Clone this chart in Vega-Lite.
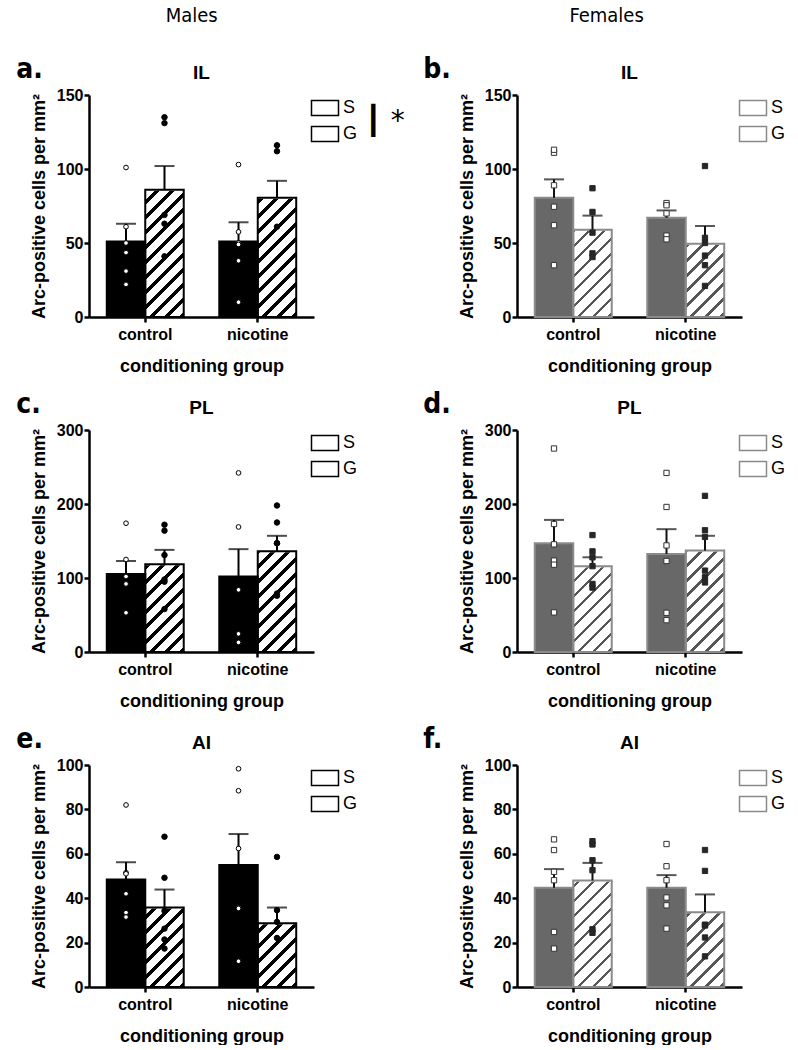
{
 "$schema": "https://vega.github.io/schema/vega-lite/v6.json",
 "background": "white",
 "padding": {"left": 16, "top": 6, "right": 0, "bottom": 0},
 "datasets": {
  "bars": [
   {"panel":"a","group":"control","cond":"S","mean":51,"upper":63},
   {"panel":"a","group":"control","cond":"G","mean":86,"upper":102},
   {"panel":"a","group":"nicotine","cond":"S","mean":51,"upper":64},
   {"panel":"a","group":"nicotine","cond":"G","mean":80.5,"upper":92},
   {"panel":"b","group":"control","cond":"S","mean":80.5,"upper":93},
   {"panel":"b","group":"control","cond":"G","mean":59,"upper":68.5},
   {"panel":"b","group":"nicotine","cond":"S","mean":67,"upper":72},
   {"panel":"b","group":"nicotine","cond":"G","mean":49.5,"upper":61.5},
   {"panel":"c","group":"control","cond":"S","mean":105.5,"upper":123},
   {"panel":"c","group":"control","cond":"G","mean":118.5,"upper":138},
   {"panel":"c","group":"nicotine","cond":"S","mean":102,"upper":139},
   {"panel":"c","group":"nicotine","cond":"G","mean":136,"upper":157},
   {"panel":"d","group":"control","cond":"S","mean":147,"upper":178.5},
   {"panel":"d","group":"control","cond":"G","mean":116,"upper":128},
   {"panel":"d","group":"nicotine","cond":"S","mean":132.5,"upper":166},
   {"panel":"d","group":"nicotine","cond":"G","mean":137,"upper":157},
   {"panel":"e","group":"control","cond":"S","mean":48.4,"upper":56.2},
   {"panel":"e","group":"control","cond":"G","mean":35.8,"upper":43.9},
   {"panel":"e","group":"nicotine","cond":"S","mean":55,"upper":68.9},
   {"panel":"e","group":"nicotine","cond":"G","mean":28.7,"upper":35.8},
   {"panel":"f","group":"control","cond":"S","mean":44.7,"upper":53.1},
   {"panel":"f","group":"control","cond":"G","mean":48,"upper":55.9},
   {"panel":"f","group":"nicotine","cond":"S","mean":44.7,"upper":50.4},
   {"panel":"f","group":"nicotine","cond":"G","mean":33.7,"upper":41.7}
  ],
  "pts": [
   {"panel":"a","group":"control","cond":"S","value":101},
   {"panel":"a","group":"control","cond":"S","value":61},
   {"panel":"a","group":"control","cond":"S","value":50},
   {"panel":"a","group":"control","cond":"S","value":43.5},
   {"panel":"a","group":"control","cond":"S","value":31},
   {"panel":"a","group":"control","cond":"S","value":22},
   {"panel":"a","group":"control","cond":"G","value":131},
   {"panel":"a","group":"control","cond":"G","value":135},
   {"panel":"a","group":"control","cond":"G","value":69},
   {"panel":"a","group":"control","cond":"G","value":63},
   {"panel":"a","group":"control","cond":"G","value":41},
   {"panel":"a","group":"nicotine","cond":"S","value":103},
   {"panel":"a","group":"nicotine","cond":"S","value":57.5},
   {"panel":"a","group":"nicotine","cond":"S","value":50},
   {"panel":"a","group":"nicotine","cond":"S","value":49},
   {"panel":"a","group":"nicotine","cond":"S","value":38},
   {"panel":"a","group":"nicotine","cond":"S","value":10},
   {"panel":"a","group":"nicotine","cond":"G","value":112},
   {"panel":"a","group":"nicotine","cond":"G","value":116},
   {"panel":"a","group":"nicotine","cond":"G","value":61},
   {"panel":"b","group":"control","cond":"S","value":111},
   {"panel":"b","group":"control","cond":"S","value":113},
   {"panel":"b","group":"control","cond":"S","value":89},
   {"panel":"b","group":"control","cond":"S","value":74.5},
   {"panel":"b","group":"control","cond":"S","value":62},
   {"panel":"b","group":"control","cond":"S","value":35},
   {"panel":"b","group":"control","cond":"G","value":87},
   {"panel":"b","group":"control","cond":"G","value":71},
   {"panel":"b","group":"control","cond":"G","value":57},
   {"panel":"b","group":"control","cond":"G","value":43},
   {"panel":"b","group":"control","cond":"G","value":40.5},
   {"panel":"b","group":"nicotine","cond":"S","value":77},
   {"panel":"b","group":"nicotine","cond":"S","value":75.5},
   {"panel":"b","group":"nicotine","cond":"S","value":70},
   {"panel":"b","group":"nicotine","cond":"S","value":55},
   {"panel":"b","group":"nicotine","cond":"S","value":52.5},
   {"panel":"b","group":"nicotine","cond":"G","value":102},
   {"panel":"b","group":"nicotine","cond":"G","value":53.5},
   {"panel":"b","group":"nicotine","cond":"G","value":50},
   {"panel":"b","group":"nicotine","cond":"G","value":41.5},
   {"panel":"b","group":"nicotine","cond":"G","value":35},
   {"panel":"b","group":"nicotine","cond":"G","value":21},
   {"panel":"c","group":"control","cond":"S","value":174},
   {"panel":"c","group":"control","cond":"S","value":125},
   {"panel":"c","group":"control","cond":"S","value":102},
   {"panel":"c","group":"control","cond":"S","value":92},
   {"panel":"c","group":"control","cond":"S","value":92},
   {"panel":"c","group":"control","cond":"S","value":53},
   {"panel":"c","group":"control","cond":"G","value":164},
   {"panel":"c","group":"control","cond":"G","value":172},
   {"panel":"c","group":"control","cond":"G","value":131},
   {"panel":"c","group":"control","cond":"G","value":98},
   {"panel":"c","group":"control","cond":"G","value":95},
   {"panel":"c","group":"control","cond":"G","value":58},
   {"panel":"c","group":"nicotine","cond":"S","value":242},
   {"panel":"c","group":"nicotine","cond":"S","value":169},
   {"panel":"c","group":"nicotine","cond":"S","value":84},
   {"panel":"c","group":"nicotine","cond":"S","value":84},
   {"panel":"c","group":"nicotine","cond":"S","value":24.5},
   {"panel":"c","group":"nicotine","cond":"S","value":13},
   {"panel":"c","group":"nicotine","cond":"G","value":198},
   {"panel":"c","group":"nicotine","cond":"G","value":175},
   {"panel":"c","group":"nicotine","cond":"G","value":147},
   {"panel":"c","group":"nicotine","cond":"G","value":147},
   {"panel":"c","group":"nicotine","cond":"G","value":79},
   {"panel":"c","group":"nicotine","cond":"G","value":76},
   {"panel":"d","group":"control","cond":"S","value":275},
   {"panel":"d","group":"control","cond":"S","value":173},
   {"panel":"d","group":"control","cond":"S","value":145.5},
   {"panel":"d","group":"control","cond":"S","value":123.5},
   {"panel":"d","group":"control","cond":"S","value":118},
   {"panel":"d","group":"control","cond":"S","value":53.5},
   {"panel":"d","group":"control","cond":"G","value":158},
   {"panel":"d","group":"control","cond":"G","value":136},
   {"panel":"d","group":"control","cond":"G","value":128},
   {"panel":"d","group":"control","cond":"G","value":116},
   {"panel":"d","group":"control","cond":"G","value":92},
   {"panel":"d","group":"control","cond":"G","value":87},
   {"panel":"d","group":"nicotine","cond":"S","value":242},
   {"panel":"d","group":"nicotine","cond":"S","value":196},
   {"panel":"d","group":"nicotine","cond":"S","value":144},
   {"panel":"d","group":"nicotine","cond":"S","value":123},
   {"panel":"d","group":"nicotine","cond":"S","value":53},
   {"panel":"d","group":"nicotine","cond":"S","value":43},
   {"panel":"d","group":"nicotine","cond":"G","value":211},
   {"panel":"d","group":"nicotine","cond":"G","value":164.5},
   {"panel":"d","group":"nicotine","cond":"G","value":155.5},
   {"panel":"d","group":"nicotine","cond":"G","value":110},
   {"panel":"d","group":"nicotine","cond":"G","value":101},
   {"panel":"d","group":"nicotine","cond":"G","value":94},
   {"panel":"e","group":"control","cond":"S","value":82},
   {"panel":"e","group":"control","cond":"S","value":51.5},
   {"panel":"e","group":"control","cond":"S","value":51},
   {"panel":"e","group":"control","cond":"S","value":42},
   {"panel":"e","group":"control","cond":"S","value":33.5},
   {"panel":"e","group":"control","cond":"S","value":31.5},
   {"panel":"e","group":"control","cond":"G","value":67.7},
   {"panel":"e","group":"control","cond":"G","value":49.2},
   {"panel":"e","group":"control","cond":"G","value":34.3},
   {"panel":"e","group":"control","cond":"G","value":26.3},
   {"panel":"e","group":"control","cond":"G","value":21.4},
   {"panel":"e","group":"control","cond":"G","value":17.3},
   {"panel":"e","group":"nicotine","cond":"S","value":98.3},
   {"panel":"e","group":"nicotine","cond":"S","value":88.4},
   {"panel":"e","group":"nicotine","cond":"S","value":62.4},
   {"panel":"e","group":"nicotine","cond":"S","value":35.6},
   {"panel":"e","group":"nicotine","cond":"S","value":35.4},
   {"panel":"e","group":"nicotine","cond":"S","value":11.6},
   {"panel":"e","group":"nicotine","cond":"G","value":58.6},
   {"panel":"e","group":"nicotine","cond":"G","value":34.6},
   {"panel":"e","group":"nicotine","cond":"G","value":29.3},
   {"panel":"e","group":"nicotine","cond":"G","value":22.1},
   {"panel":"f","group":"control","cond":"S","value":66.5},
   {"panel":"f","group":"control","cond":"S","value":61.7},
   {"panel":"f","group":"control","cond":"S","value":51.9},
   {"panel":"f","group":"control","cond":"S","value":48.1},
   {"panel":"f","group":"control","cond":"S","value":24.8},
   {"panel":"f","group":"control","cond":"S","value":17.3},
   {"panel":"f","group":"control","cond":"G","value":64.2},
   {"panel":"f","group":"control","cond":"G","value":65.7},
   {"panel":"f","group":"control","cond":"G","value":57.1},
   {"panel":"f","group":"control","cond":"G","value":52.6},
   {"panel":"f","group":"control","cond":"G","value":26},
   {"panel":"f","group":"control","cond":"G","value":24.4},
   {"panel":"f","group":"nicotine","cond":"S","value":64.4},
   {"panel":"f","group":"nicotine","cond":"S","value":54.4},
   {"panel":"f","group":"nicotine","cond":"S","value":48.1},
   {"panel":"f","group":"nicotine","cond":"S","value":40.3},
   {"panel":"f","group":"nicotine","cond":"S","value":36.8},
   {"panel":"f","group":"nicotine","cond":"S","value":26.3},
   {"panel":"f","group":"nicotine","cond":"G","value":61.7},
   {"panel":"f","group":"nicotine","cond":"G","value":52.3},
   {"panel":"f","group":"nicotine","cond":"G","value":28.1},
   {"panel":"f","group":"nicotine","cond":"G","value":27.7},
   {"panel":"f","group":"nicotine","cond":"G","value":22.3},
   {"panel":"f","group":"nicotine","cond":"G","value":13.8}
  ]
 },
 "spacing": 14,
 "resolve": {"scale": {"stroke": "independent"}, "legend": {"stroke": "independent"}},
 "hconcat": [
  {
   "title": {"text": "Males", "anchor": "middle", "frame": "bounds", "font": "'DejaVu Sans Condensed', 'Liberation Sans', sans-serif", "fontSize": 20, "fontWeight": "normal", "offset": 30, "dx": -21},
   "spacing": 16,
   "resolve": {"scale": {"stroke": "independent"}, "legend": {"stroke": "independent"}},
   "vconcat": [
    {
     "title": {"text": "a.", "anchor": "start", "frame": "bounds", "font": "'DejaVu Sans Condensed', 'Liberation Sans', sans-serif", "fontSize": 28, "fontWeight": "bold", "offset": -20, "dx": -14},
     "resolve": {"scale": {"stroke": "independent"}, "legend": {"stroke": "independent"}},
     "vconcat": [{
      "width": 225, "height": 222,
      "title": {"text": "IL", "anchor": "middle", "frame": "group", "fontSize": 19, "fontWeight": "bold", "offset": 4},
      "data": {"name": "bars"},
      "transform": [{"filter": "datum.panel === 'a'"}],
      "encoding": {
       "x": {"field": "group", "type": "nominal", "title": "conditioning group", "scale": {"domain": ["control", "nicotine"], "paddingInner": 0.316, "paddingOuter": 0.158}, "axis": {"bandPosition": 0.5}},
       "xOffset": {"field": "cond", "type": "nominal", "scale": {"domain": ["S", "G"], "paddingInner": 0, "paddingOuter": 0}},
       "y": {"field": "mean", "type": "quantitative", "stack": null, "title": "Arc-positive cells per mm²", "scale": {"domain": [0, 150], "nice": false}, "axis": {"values": [0, 50, 100, 150]}}
      },
      "layer": [
       {"transform": [{"filter": "datum.cond === 'G'"}], "mark": {"type": "bar", "stroke": null, "fill": {"gradient": "linear", "x1": 0, "y1": 0, "x2": 0.1976, "y2": 1.139, "stops": [
    {"offset": 0, "color": "#000"}, {"offset": 0.019, "color": "#000"}, {"offset": 0.019, "color": "#fff"},
    {"offset": 0.0576, "color": "#fff"}, {"offset": 0.0576, "color": "#000"}, {"offset": 0.0766, "color": "#000"}, {"offset": 0.0766, "color": "#fff"},
    {"offset": 0.1152, "color": "#fff"}, {"offset": 0.1152, "color": "#000"}, {"offset": 0.1342, "color": "#000"}, {"offset": 0.1342, "color": "#fff"},
    {"offset": 0.1727, "color": "#fff"}, {"offset": 0.1727, "color": "#000"}, {"offset": 0.1917, "color": "#000"}, {"offset": 0.1917, "color": "#fff"},
    {"offset": 0.2303, "color": "#fff"}, {"offset": 0.2303, "color": "#000"}, {"offset": 0.2493, "color": "#000"}, {"offset": 0.2493, "color": "#fff"},
    {"offset": 0.2879, "color": "#fff"}, {"offset": 0.2879, "color": "#000"}, {"offset": 0.3069, "color": "#000"}, {"offset": 0.3069, "color": "#fff"},
    {"offset": 0.3455, "color": "#fff"}, {"offset": 0.3455, "color": "#000"}, {"offset": 0.3645, "color": "#000"}, {"offset": 0.3645, "color": "#fff"},
    {"offset": 0.4031, "color": "#fff"}, {"offset": 0.4031, "color": "#000"}, {"offset": 0.4221, "color": "#000"}, {"offset": 0.4221, "color": "#fff"},
    {"offset": 0.4607, "color": "#fff"}, {"offset": 0.4607, "color": "#000"}, {"offset": 0.4797, "color": "#000"}, {"offset": 0.4797, "color": "#fff"},
    {"offset": 0.5182, "color": "#fff"}, {"offset": 0.5182, "color": "#000"}, {"offset": 0.5372, "color": "#000"}, {"offset": 0.5372, "color": "#fff"},
    {"offset": 0.5758, "color": "#fff"}, {"offset": 0.5758, "color": "#000"}, {"offset": 0.5948, "color": "#000"}, {"offset": 0.5948, "color": "#fff"},
    {"offset": 0.6334, "color": "#fff"}, {"offset": 0.6334, "color": "#000"}, {"offset": 0.6524, "color": "#000"}, {"offset": 0.6524, "color": "#fff"},
    {"offset": 0.691, "color": "#fff"}, {"offset": 0.691, "color": "#000"}, {"offset": 0.71, "color": "#000"}, {"offset": 0.71, "color": "#fff"},
    {"offset": 0.7486, "color": "#fff"}, {"offset": 0.7486, "color": "#000"}, {"offset": 0.7676, "color": "#000"}, {"offset": 0.7676, "color": "#fff"},
    {"offset": 0.8061, "color": "#fff"}, {"offset": 0.8061, "color": "#000"}, {"offset": 0.8251, "color": "#000"}, {"offset": 0.8251, "color": "#fff"},
    {"offset": 0.8637, "color": "#fff"}, {"offset": 0.8637, "color": "#000"}, {"offset": 0.8827, "color": "#000"}, {"offset": 0.8827, "color": "#fff"},
    {"offset": 0.9213, "color": "#fff"}, {"offset": 0.9213, "color": "#000"}, {"offset": 0.9403, "color": "#000"}, {"offset": 0.9403, "color": "#fff"},
    {"offset": 0.9789, "color": "#fff"}, {"offset": 0.9789, "color": "#000"}, {"offset": 0.9979, "color": "#000"}, {"offset": 0.9979, "color": "#fff"},
    {"offset": 1, "color": "#fff"}]}}, "encoding": {"y": {"datum": 150, "type": "quantitative", "title": "Arc-positive cells per mm²"}, "y2": {"datum": 0}}},
       {"transform": [{"filter": "datum.cond === 'G'"}], "mark": {"type": "bar", "fill": "#ffffff", "stroke": "#ffffff", "strokeWidth": 2}, "encoding": {"y2": {"datum": 150}}},
       {"mark": {"type": "bar", "strokeWidth": 2}, "encoding": {
         "fill": {"condition": {"test": "datum.cond === 'S'", "value": "#000000"}, "value": "transparent"},
         "stroke": {"field": "cond", "type": "nominal", "scale": {"domain": ["S", "G"], "range": ["#000000", "#000000"]}, "legend": {"title": "┃ *", "titleOrient": "right", "encode": {"symbols": {"strokeWidth": {"value": 1.5}, "fill": {"condition": [{"test": "datum.value === 'G'", "value": {"gradient": "linear", "x1": 0, "y1": 0, "x2": 1.189, "y2": 0.66, "stops": [{"offset": 0, "color": "#000"}, {"offset": 0.118, "color": "#000"}, {"offset": 0.118, "color": "#fff"}, {"offset": 0.357, "color": "#fff"}, {"offset": 0.357, "color": "#000"}, {"offset": 0.475, "color": "#000"}, {"offset": 0.475, "color": "#fff"}, {"offset": 0.714, "color": "#fff"}, {"offset": 0.714, "color": "#000"}, {"offset": 0.832, "color": "#000"}, {"offset": 0.832, "color": "#fff"}, {"offset": 1, "color": "#fff"}]}}, {"test": "datum.value === 'S'", "value": "#000000"}], "value": "#000000"}}}}}
       }},
       {"mark": {"type": "rule", "stroke": "#000000", "strokeWidth": 2}, "encoding": {"y2": {"field": "upper"}}},
       {"mark": {"type": "tick", "color": "#000000", "thickness": 2, "size": 20}, "encoding": {"y": {"field": "upper", "type": "quantitative", "title": "Arc-positive cells per mm²"}}},
       {"data": {"name": "pts"}, "transform": [{"filter": "datum.panel === 'a'"}], "mark": {"type": "point", "shape": "circle", "filled": true, "opacity": 1, "stroke": "#000000", "strokeWidth": 1}, "encoding": {"y": {"field": "value", "type": "quantitative", "title": "Arc-positive cells per mm²"}, "fill": {"condition": {"test": "datum.cond === 'S'", "value": "#ffffff"}, "value": "#000000"}, "size": {"condition": {"test": "datum.cond === 'S'", "value": 22}, "value": 30}}}
      ]
     }]
    },
    {
     "title": {"text": "c.", "anchor": "start", "frame": "bounds", "font": "'DejaVu Sans Condensed', 'Liberation Sans', sans-serif", "fontSize": 28, "fontWeight": "bold", "offset": -20, "dx": -14},
     "resolve": {"scale": {"stroke": "independent"}, "legend": {"stroke": "independent"}},
     "vconcat": [{
      "width": 225, "height": 222,
      "title": {"text": "PL", "anchor": "middle", "frame": "group", "fontSize": 19, "fontWeight": "bold", "offset": 4},
      "data": {"name": "bars"},
      "transform": [{"filter": "datum.panel === 'c'"}],
      "encoding": {
       "x": {"field": "group", "type": "nominal", "title": "conditioning group", "scale": {"domain": ["control", "nicotine"], "paddingInner": 0.316, "paddingOuter": 0.158}, "axis": {"bandPosition": 0.5}},
       "xOffset": {"field": "cond", "type": "nominal", "scale": {"domain": ["S", "G"], "paddingInner": 0, "paddingOuter": 0}},
       "y": {"field": "mean", "type": "quantitative", "stack": null, "title": "Arc-positive cells per mm²", "scale": {"domain": [0, 300], "nice": false}, "axis": {"values": [0, 100, 200, 300]}}
      },
      "layer": [
       {"transform": [{"filter": "datum.cond === 'G'"}], "mark": {"type": "bar", "stroke": null, "fill": {"gradient": "linear", "x1": 0, "y1": 0, "x2": 0.1976, "y2": 1.139, "stops": [
    {"offset": 0, "color": "#000"}, {"offset": 0.019, "color": "#000"}, {"offset": 0.019, "color": "#fff"},
    {"offset": 0.0576, "color": "#fff"}, {"offset": 0.0576, "color": "#000"}, {"offset": 0.0766, "color": "#000"}, {"offset": 0.0766, "color": "#fff"},
    {"offset": 0.1152, "color": "#fff"}, {"offset": 0.1152, "color": "#000"}, {"offset": 0.1342, "color": "#000"}, {"offset": 0.1342, "color": "#fff"},
    {"offset": 0.1727, "color": "#fff"}, {"offset": 0.1727, "color": "#000"}, {"offset": 0.1917, "color": "#000"}, {"offset": 0.1917, "color": "#fff"},
    {"offset": 0.2303, "color": "#fff"}, {"offset": 0.2303, "color": "#000"}, {"offset": 0.2493, "color": "#000"}, {"offset": 0.2493, "color": "#fff"},
    {"offset": 0.2879, "color": "#fff"}, {"offset": 0.2879, "color": "#000"}, {"offset": 0.3069, "color": "#000"}, {"offset": 0.3069, "color": "#fff"},
    {"offset": 0.3455, "color": "#fff"}, {"offset": 0.3455, "color": "#000"}, {"offset": 0.3645, "color": "#000"}, {"offset": 0.3645, "color": "#fff"},
    {"offset": 0.4031, "color": "#fff"}, {"offset": 0.4031, "color": "#000"}, {"offset": 0.4221, "color": "#000"}, {"offset": 0.4221, "color": "#fff"},
    {"offset": 0.4607, "color": "#fff"}, {"offset": 0.4607, "color": "#000"}, {"offset": 0.4797, "color": "#000"}, {"offset": 0.4797, "color": "#fff"},
    {"offset": 0.5182, "color": "#fff"}, {"offset": 0.5182, "color": "#000"}, {"offset": 0.5372, "color": "#000"}, {"offset": 0.5372, "color": "#fff"},
    {"offset": 0.5758, "color": "#fff"}, {"offset": 0.5758, "color": "#000"}, {"offset": 0.5948, "color": "#000"}, {"offset": 0.5948, "color": "#fff"},
    {"offset": 0.6334, "color": "#fff"}, {"offset": 0.6334, "color": "#000"}, {"offset": 0.6524, "color": "#000"}, {"offset": 0.6524, "color": "#fff"},
    {"offset": 0.691, "color": "#fff"}, {"offset": 0.691, "color": "#000"}, {"offset": 0.71, "color": "#000"}, {"offset": 0.71, "color": "#fff"},
    {"offset": 0.7486, "color": "#fff"}, {"offset": 0.7486, "color": "#000"}, {"offset": 0.7676, "color": "#000"}, {"offset": 0.7676, "color": "#fff"},
    {"offset": 0.8061, "color": "#fff"}, {"offset": 0.8061, "color": "#000"}, {"offset": 0.8251, "color": "#000"}, {"offset": 0.8251, "color": "#fff"},
    {"offset": 0.8637, "color": "#fff"}, {"offset": 0.8637, "color": "#000"}, {"offset": 0.8827, "color": "#000"}, {"offset": 0.8827, "color": "#fff"},
    {"offset": 0.9213, "color": "#fff"}, {"offset": 0.9213, "color": "#000"}, {"offset": 0.9403, "color": "#000"}, {"offset": 0.9403, "color": "#fff"},
    {"offset": 0.9789, "color": "#fff"}, {"offset": 0.9789, "color": "#000"}, {"offset": 0.9979, "color": "#000"}, {"offset": 0.9979, "color": "#fff"},
    {"offset": 1, "color": "#fff"}]}}, "encoding": {"y": {"datum": 300, "type": "quantitative", "title": "Arc-positive cells per mm²"}, "y2": {"datum": 0}}},
       {"transform": [{"filter": "datum.cond === 'G'"}], "mark": {"type": "bar", "fill": "#ffffff", "stroke": "#ffffff", "strokeWidth": 2}, "encoding": {"y2": {"datum": 300}}},
       {"mark": {"type": "bar", "strokeWidth": 2}, "encoding": {
         "fill": {"condition": {"test": "datum.cond === 'S'", "value": "#000000"}, "value": "transparent"},
         "stroke": {"field": "cond", "type": "nominal", "scale": {"domain": ["S", "G"], "range": ["#000000", "#000000"]}, "legend": {"title": null, "encode": {"symbols": {"strokeWidth": {"value": 1.5}, "fill": {"condition": [{"test": "datum.value === 'G'", "value": {"gradient": "linear", "x1": 0, "y1": 0, "x2": 1.189, "y2": 0.66, "stops": [{"offset": 0, "color": "#000"}, {"offset": 0.118, "color": "#000"}, {"offset": 0.118, "color": "#fff"}, {"offset": 0.357, "color": "#fff"}, {"offset": 0.357, "color": "#000"}, {"offset": 0.475, "color": "#000"}, {"offset": 0.475, "color": "#fff"}, {"offset": 0.714, "color": "#fff"}, {"offset": 0.714, "color": "#000"}, {"offset": 0.832, "color": "#000"}, {"offset": 0.832, "color": "#fff"}, {"offset": 1, "color": "#fff"}]}}, {"test": "datum.value === 'S'", "value": "#000000"}], "value": "#000000"}}}}}
       }},
       {"mark": {"type": "rule", "stroke": "#000000", "strokeWidth": 2}, "encoding": {"y2": {"field": "upper"}}},
       {"mark": {"type": "tick", "color": "#000000", "thickness": 2, "size": 20}, "encoding": {"y": {"field": "upper", "type": "quantitative", "title": "Arc-positive cells per mm²"}}},
       {"data": {"name": "pts"}, "transform": [{"filter": "datum.panel === 'c'"}], "mark": {"type": "point", "shape": "circle", "filled": true, "opacity": 1, "stroke": "#000000", "strokeWidth": 1}, "encoding": {"y": {"field": "value", "type": "quantitative", "title": "Arc-positive cells per mm²"}, "fill": {"condition": {"test": "datum.cond === 'S'", "value": "#ffffff"}, "value": "#000000"}, "size": {"condition": {"test": "datum.cond === 'S'", "value": 22}, "value": 30}}}
      ]
     }]
    },
    {
     "title": {"text": "e.", "anchor": "start", "frame": "bounds", "font": "'DejaVu Sans Condensed', 'Liberation Sans', sans-serif", "fontSize": 28, "fontWeight": "bold", "offset": -20, "dx": -14},
     "resolve": {"scale": {"stroke": "independent"}, "legend": {"stroke": "independent"}},
     "vconcat": [{
      "width": 225, "height": 222,
      "title": {"text": "AI", "anchor": "middle", "frame": "group", "fontSize": 19, "fontWeight": "bold", "offset": 4},
      "data": {"name": "bars"},
      "transform": [{"filter": "datum.panel === 'e'"}],
      "encoding": {
       "x": {"field": "group", "type": "nominal", "title": "conditioning group", "scale": {"domain": ["control", "nicotine"], "paddingInner": 0.316, "paddingOuter": 0.158}, "axis": {"bandPosition": 0.5}},
       "xOffset": {"field": "cond", "type": "nominal", "scale": {"domain": ["S", "G"], "paddingInner": 0, "paddingOuter": 0}},
       "y": {"field": "mean", "type": "quantitative", "stack": null, "title": "Arc-positive cells per mm²", "scale": {"domain": [0, 100], "nice": false}, "axis": {"values": [0, 20, 40, 60, 80, 100]}}
      },
      "layer": [
       {"transform": [{"filter": "datum.cond === 'G'"}], "mark": {"type": "bar", "stroke": null, "fill": {"gradient": "linear", "x1": 0, "y1": 0, "x2": 0.1976, "y2": 1.139, "stops": [
    {"offset": 0, "color": "#000"}, {"offset": 0.019, "color": "#000"}, {"offset": 0.019, "color": "#fff"},
    {"offset": 0.0576, "color": "#fff"}, {"offset": 0.0576, "color": "#000"}, {"offset": 0.0766, "color": "#000"}, {"offset": 0.0766, "color": "#fff"},
    {"offset": 0.1152, "color": "#fff"}, {"offset": 0.1152, "color": "#000"}, {"offset": 0.1342, "color": "#000"}, {"offset": 0.1342, "color": "#fff"},
    {"offset": 0.1727, "color": "#fff"}, {"offset": 0.1727, "color": "#000"}, {"offset": 0.1917, "color": "#000"}, {"offset": 0.1917, "color": "#fff"},
    {"offset": 0.2303, "color": "#fff"}, {"offset": 0.2303, "color": "#000"}, {"offset": 0.2493, "color": "#000"}, {"offset": 0.2493, "color": "#fff"},
    {"offset": 0.2879, "color": "#fff"}, {"offset": 0.2879, "color": "#000"}, {"offset": 0.3069, "color": "#000"}, {"offset": 0.3069, "color": "#fff"},
    {"offset": 0.3455, "color": "#fff"}, {"offset": 0.3455, "color": "#000"}, {"offset": 0.3645, "color": "#000"}, {"offset": 0.3645, "color": "#fff"},
    {"offset": 0.4031, "color": "#fff"}, {"offset": 0.4031, "color": "#000"}, {"offset": 0.4221, "color": "#000"}, {"offset": 0.4221, "color": "#fff"},
    {"offset": 0.4607, "color": "#fff"}, {"offset": 0.4607, "color": "#000"}, {"offset": 0.4797, "color": "#000"}, {"offset": 0.4797, "color": "#fff"},
    {"offset": 0.5182, "color": "#fff"}, {"offset": 0.5182, "color": "#000"}, {"offset": 0.5372, "color": "#000"}, {"offset": 0.5372, "color": "#fff"},
    {"offset": 0.5758, "color": "#fff"}, {"offset": 0.5758, "color": "#000"}, {"offset": 0.5948, "color": "#000"}, {"offset": 0.5948, "color": "#fff"},
    {"offset": 0.6334, "color": "#fff"}, {"offset": 0.6334, "color": "#000"}, {"offset": 0.6524, "color": "#000"}, {"offset": 0.6524, "color": "#fff"},
    {"offset": 0.691, "color": "#fff"}, {"offset": 0.691, "color": "#000"}, {"offset": 0.71, "color": "#000"}, {"offset": 0.71, "color": "#fff"},
    {"offset": 0.7486, "color": "#fff"}, {"offset": 0.7486, "color": "#000"}, {"offset": 0.7676, "color": "#000"}, {"offset": 0.7676, "color": "#fff"},
    {"offset": 0.8061, "color": "#fff"}, {"offset": 0.8061, "color": "#000"}, {"offset": 0.8251, "color": "#000"}, {"offset": 0.8251, "color": "#fff"},
    {"offset": 0.8637, "color": "#fff"}, {"offset": 0.8637, "color": "#000"}, {"offset": 0.8827, "color": "#000"}, {"offset": 0.8827, "color": "#fff"},
    {"offset": 0.9213, "color": "#fff"}, {"offset": 0.9213, "color": "#000"}, {"offset": 0.9403, "color": "#000"}, {"offset": 0.9403, "color": "#fff"},
    {"offset": 0.9789, "color": "#fff"}, {"offset": 0.9789, "color": "#000"}, {"offset": 0.9979, "color": "#000"}, {"offset": 0.9979, "color": "#fff"},
    {"offset": 1, "color": "#fff"}]}}, "encoding": {"y": {"datum": 100, "type": "quantitative", "title": "Arc-positive cells per mm²"}, "y2": {"datum": 0}}},
       {"transform": [{"filter": "datum.cond === 'G'"}], "mark": {"type": "bar", "fill": "#ffffff", "stroke": "#ffffff", "strokeWidth": 2}, "encoding": {"y2": {"datum": 100}}},
       {"mark": {"type": "bar", "strokeWidth": 2}, "encoding": {
         "fill": {"condition": {"test": "datum.cond === 'S'", "value": "#000000"}, "value": "transparent"},
         "stroke": {"field": "cond", "type": "nominal", "scale": {"domain": ["S", "G"], "range": ["#000000", "#000000"]}, "legend": {"title": null, "encode": {"symbols": {"strokeWidth": {"value": 1.5}, "fill": {"condition": [{"test": "datum.value === 'G'", "value": {"gradient": "linear", "x1": 0, "y1": 0, "x2": 1.189, "y2": 0.66, "stops": [{"offset": 0, "color": "#000"}, {"offset": 0.118, "color": "#000"}, {"offset": 0.118, "color": "#fff"}, {"offset": 0.357, "color": "#fff"}, {"offset": 0.357, "color": "#000"}, {"offset": 0.475, "color": "#000"}, {"offset": 0.475, "color": "#fff"}, {"offset": 0.714, "color": "#fff"}, {"offset": 0.714, "color": "#000"}, {"offset": 0.832, "color": "#000"}, {"offset": 0.832, "color": "#fff"}, {"offset": 1, "color": "#fff"}]}}, {"test": "datum.value === 'S'", "value": "#000000"}], "value": "#000000"}}}}}
       }},
       {"mark": {"type": "rule", "stroke": "#000000", "strokeWidth": 2}, "encoding": {"y2": {"field": "upper"}}},
       {"mark": {"type": "tick", "color": "#000000", "thickness": 2, "size": 20}, "encoding": {"y": {"field": "upper", "type": "quantitative", "title": "Arc-positive cells per mm²"}}},
       {"data": {"name": "pts"}, "transform": [{"filter": "datum.panel === 'e'"}], "mark": {"type": "point", "shape": "circle", "filled": true, "opacity": 1, "stroke": "#000000", "strokeWidth": 1}, "encoding": {"y": {"field": "value", "type": "quantitative", "title": "Arc-positive cells per mm²"}, "fill": {"condition": {"test": "datum.cond === 'S'", "value": "#ffffff"}, "value": "#000000"}, "size": {"condition": {"test": "datum.cond === 'S'", "value": 22}, "value": 30}}}
      ]
     }]
    }
   ]
  },
  {
   "title": {"text": "Females", "anchor": "middle", "frame": "bounds", "font": "'DejaVu Sans Condensed', 'Liberation Sans', sans-serif", "fontSize": 20, "fontWeight": "normal", "offset": 30, "dx": 0},
   "spacing": 16,
   "resolve": {"scale": {"stroke": "independent"}, "legend": {"stroke": "independent"}},
   "vconcat": [
    {
     "title": {"text": "b.", "anchor": "start", "frame": "bounds", "font": "'DejaVu Sans Condensed', 'Liberation Sans', sans-serif", "fontSize": 28, "fontWeight": "bold", "offset": -20, "dx": -35},
     "resolve": {"scale": {"stroke": "independent"}, "legend": {"stroke": "independent"}},
     "vconcat": [{
      "width": 225, "height": 222,
      "title": {"text": "IL", "anchor": "middle", "frame": "group", "fontSize": 19, "fontWeight": "bold", "offset": 4},
      "data": {"name": "bars"},
      "transform": [{"filter": "datum.panel === 'b'"}],
      "encoding": {
       "x": {"field": "group", "type": "nominal", "title": "conditioning group", "scale": {"domain": ["control", "nicotine"], "paddingInner": 0.316, "paddingOuter": 0.158}, "axis": {"bandPosition": 0.5}},
       "xOffset": {"field": "cond", "type": "nominal", "scale": {"domain": ["S", "G"], "paddingInner": 0, "paddingOuter": 0}},
       "y": {"field": "mean", "type": "quantitative", "stack": null, "title": "Arc-positive cells per mm²", "scale": {"domain": [0, 150], "nice": false}, "axis": {"values": [0, 50, 100, 150]}}
      },
      "layer": [
       {"transform": [{"filter": "datum.cond === 'G'"}], "mark": {"type": "bar", "stroke": null, "fill": {"gradient": "linear", "x1": 0, "y1": 0, "x2": 0.1976, "y2": 1.139, "stops": [
    {"offset": 0, "color": "#555"}, {"offset": 0.0144, "color": "#555"}, {"offset": 0.0144, "color": "#fff"},
    {"offset": 0.0576, "color": "#fff"}, {"offset": 0.0576, "color": "#555"}, {"offset": 0.072, "color": "#555"}, {"offset": 0.072, "color": "#fff"},
    {"offset": 0.1152, "color": "#fff"}, {"offset": 0.1152, "color": "#555"}, {"offset": 0.1296, "color": "#555"}, {"offset": 0.1296, "color": "#fff"},
    {"offset": 0.1727, "color": "#fff"}, {"offset": 0.1727, "color": "#555"}, {"offset": 0.1871, "color": "#555"}, {"offset": 0.1871, "color": "#fff"},
    {"offset": 0.2303, "color": "#fff"}, {"offset": 0.2303, "color": "#555"}, {"offset": 0.2447, "color": "#555"}, {"offset": 0.2447, "color": "#fff"},
    {"offset": 0.2879, "color": "#fff"}, {"offset": 0.2879, "color": "#555"}, {"offset": 0.3023, "color": "#555"}, {"offset": 0.3023, "color": "#fff"},
    {"offset": 0.3455, "color": "#fff"}, {"offset": 0.3455, "color": "#555"}, {"offset": 0.3599, "color": "#555"}, {"offset": 0.3599, "color": "#fff"},
    {"offset": 0.4031, "color": "#fff"}, {"offset": 0.4031, "color": "#555"}, {"offset": 0.4175, "color": "#555"}, {"offset": 0.4175, "color": "#fff"},
    {"offset": 0.4607, "color": "#fff"}, {"offset": 0.4607, "color": "#555"}, {"offset": 0.4751, "color": "#555"}, {"offset": 0.4751, "color": "#fff"},
    {"offset": 0.5182, "color": "#fff"}, {"offset": 0.5182, "color": "#555"}, {"offset": 0.5326, "color": "#555"}, {"offset": 0.5326, "color": "#fff"},
    {"offset": 0.5758, "color": "#fff"}, {"offset": 0.5758, "color": "#555"}, {"offset": 0.5902, "color": "#555"}, {"offset": 0.5902, "color": "#fff"},
    {"offset": 0.6334, "color": "#fff"}, {"offset": 0.6334, "color": "#555"}, {"offset": 0.6478, "color": "#555"}, {"offset": 0.6478, "color": "#fff"},
    {"offset": 0.691, "color": "#fff"}, {"offset": 0.691, "color": "#555"}, {"offset": 0.7054, "color": "#555"}, {"offset": 0.7054, "color": "#fff"},
    {"offset": 0.7486, "color": "#fff"}, {"offset": 0.7486, "color": "#555"}, {"offset": 0.763, "color": "#555"}, {"offset": 0.763, "color": "#fff"},
    {"offset": 0.8061, "color": "#fff"}, {"offset": 0.8061, "color": "#555"}, {"offset": 0.8205, "color": "#555"}, {"offset": 0.8205, "color": "#fff"},
    {"offset": 0.8637, "color": "#fff"}, {"offset": 0.8637, "color": "#555"}, {"offset": 0.8781, "color": "#555"}, {"offset": 0.8781, "color": "#fff"},
    {"offset": 0.9213, "color": "#fff"}, {"offset": 0.9213, "color": "#555"}, {"offset": 0.9357, "color": "#555"}, {"offset": 0.9357, "color": "#fff"},
    {"offset": 0.9789, "color": "#fff"}, {"offset": 0.9789, "color": "#555"}, {"offset": 0.9933, "color": "#555"}, {"offset": 0.9933, "color": "#fff"},
    {"offset": 1, "color": "#fff"}]}}, "encoding": {"y": {"datum": 150, "type": "quantitative", "title": "Arc-positive cells per mm²"}, "y2": {"datum": 0}}},
       {"transform": [{"filter": "datum.cond === 'G'"}], "mark": {"type": "bar", "fill": "#ffffff", "stroke": "#ffffff", "strokeWidth": 2}, "encoding": {"y2": {"datum": 150}}},
       {"mark": {"type": "bar", "strokeWidth": 2}, "encoding": {
         "fill": {"condition": {"test": "datum.cond === 'S'", "value": "#686868"}, "value": "transparent"},
         "stroke": {"field": "cond", "type": "nominal", "scale": {"domain": ["S", "G"], "range": ["#8a8a8a", "#8a8a8a"]}, "legend": {"title": null, "encode": {"symbols": {"strokeWidth": {"value": 1.5}, "fill": {"condition": [{"test": "datum.value === 'G'", "value": {"gradient": "linear", "x1": 0, "y1": 0, "x2": 1.189, "y2": 0.66, "stops": [{"offset": 0, "color": "#555"}, {"offset": 0.09, "color": "#555"}, {"offset": 0.09, "color": "#fff"}, {"offset": 0.357, "color": "#fff"}, {"offset": 0.357, "color": "#555"}, {"offset": 0.447, "color": "#555"}, {"offset": 0.447, "color": "#fff"}, {"offset": 0.714, "color": "#fff"}, {"offset": 0.714, "color": "#555"}, {"offset": 0.804, "color": "#555"}, {"offset": 0.804, "color": "#fff"}, {"offset": 1, "color": "#fff"}]}}, {"test": "datum.value === 'S'", "value": "#686868"}], "value": "#686868"}}}}}
       }},
       {"mark": {"type": "rule", "stroke": "#111111", "strokeWidth": 2}, "encoding": {"y2": {"field": "upper"}}},
       {"mark": {"type": "tick", "color": "#111111", "thickness": 2, "size": 20}, "encoding": {"y": {"field": "upper", "type": "quantitative", "title": "Arc-positive cells per mm²"}}},
       {"data": {"name": "pts"}, "transform": [{"filter": "datum.panel === 'b'"}], "mark": {"type": "point", "shape": "square", "filled": true, "opacity": 1, "strokeWidth": 1}, "encoding": {"y": {"field": "value", "type": "quantitative", "title": "Arc-positive cells per mm²"}, "fill": {"condition": {"test": "datum.cond === 'S'", "value": "#ffffff"}, "value": "#262626"}, "stroke": {"condition": {"test": "datum.cond === 'S'", "value": "#333333"}, "value": "#262626"}, "size": {"value": 28}}}
      ]
     }]
    },
    {
     "title": {"text": "d.", "anchor": "start", "frame": "bounds", "font": "'DejaVu Sans Condensed', 'Liberation Sans', sans-serif", "fontSize": 28, "fontWeight": "bold", "offset": -20, "dx": -35},
     "resolve": {"scale": {"stroke": "independent"}, "legend": {"stroke": "independent"}},
     "vconcat": [{
      "width": 225, "height": 222,
      "title": {"text": "PL", "anchor": "middle", "frame": "group", "fontSize": 19, "fontWeight": "bold", "offset": 4},
      "data": {"name": "bars"},
      "transform": [{"filter": "datum.panel === 'd'"}],
      "encoding": {
       "x": {"field": "group", "type": "nominal", "title": "conditioning group", "scale": {"domain": ["control", "nicotine"], "paddingInner": 0.316, "paddingOuter": 0.158}, "axis": {"bandPosition": 0.5}},
       "xOffset": {"field": "cond", "type": "nominal", "scale": {"domain": ["S", "G"], "paddingInner": 0, "paddingOuter": 0}},
       "y": {"field": "mean", "type": "quantitative", "stack": null, "title": "Arc-positive cells per mm²", "scale": {"domain": [0, 300], "nice": false}, "axis": {"values": [0, 100, 200, 300]}}
      },
      "layer": [
       {"transform": [{"filter": "datum.cond === 'G'"}], "mark": {"type": "bar", "stroke": null, "fill": {"gradient": "linear", "x1": 0, "y1": 0, "x2": 0.1976, "y2": 1.139, "stops": [
    {"offset": 0, "color": "#555"}, {"offset": 0.0144, "color": "#555"}, {"offset": 0.0144, "color": "#fff"},
    {"offset": 0.0576, "color": "#fff"}, {"offset": 0.0576, "color": "#555"}, {"offset": 0.072, "color": "#555"}, {"offset": 0.072, "color": "#fff"},
    {"offset": 0.1152, "color": "#fff"}, {"offset": 0.1152, "color": "#555"}, {"offset": 0.1296, "color": "#555"}, {"offset": 0.1296, "color": "#fff"},
    {"offset": 0.1727, "color": "#fff"}, {"offset": 0.1727, "color": "#555"}, {"offset": 0.1871, "color": "#555"}, {"offset": 0.1871, "color": "#fff"},
    {"offset": 0.2303, "color": "#fff"}, {"offset": 0.2303, "color": "#555"}, {"offset": 0.2447, "color": "#555"}, {"offset": 0.2447, "color": "#fff"},
    {"offset": 0.2879, "color": "#fff"}, {"offset": 0.2879, "color": "#555"}, {"offset": 0.3023, "color": "#555"}, {"offset": 0.3023, "color": "#fff"},
    {"offset": 0.3455, "color": "#fff"}, {"offset": 0.3455, "color": "#555"}, {"offset": 0.3599, "color": "#555"}, {"offset": 0.3599, "color": "#fff"},
    {"offset": 0.4031, "color": "#fff"}, {"offset": 0.4031, "color": "#555"}, {"offset": 0.4175, "color": "#555"}, {"offset": 0.4175, "color": "#fff"},
    {"offset": 0.4607, "color": "#fff"}, {"offset": 0.4607, "color": "#555"}, {"offset": 0.4751, "color": "#555"}, {"offset": 0.4751, "color": "#fff"},
    {"offset": 0.5182, "color": "#fff"}, {"offset": 0.5182, "color": "#555"}, {"offset": 0.5326, "color": "#555"}, {"offset": 0.5326, "color": "#fff"},
    {"offset": 0.5758, "color": "#fff"}, {"offset": 0.5758, "color": "#555"}, {"offset": 0.5902, "color": "#555"}, {"offset": 0.5902, "color": "#fff"},
    {"offset": 0.6334, "color": "#fff"}, {"offset": 0.6334, "color": "#555"}, {"offset": 0.6478, "color": "#555"}, {"offset": 0.6478, "color": "#fff"},
    {"offset": 0.691, "color": "#fff"}, {"offset": 0.691, "color": "#555"}, {"offset": 0.7054, "color": "#555"}, {"offset": 0.7054, "color": "#fff"},
    {"offset": 0.7486, "color": "#fff"}, {"offset": 0.7486, "color": "#555"}, {"offset": 0.763, "color": "#555"}, {"offset": 0.763, "color": "#fff"},
    {"offset": 0.8061, "color": "#fff"}, {"offset": 0.8061, "color": "#555"}, {"offset": 0.8205, "color": "#555"}, {"offset": 0.8205, "color": "#fff"},
    {"offset": 0.8637, "color": "#fff"}, {"offset": 0.8637, "color": "#555"}, {"offset": 0.8781, "color": "#555"}, {"offset": 0.8781, "color": "#fff"},
    {"offset": 0.9213, "color": "#fff"}, {"offset": 0.9213, "color": "#555"}, {"offset": 0.9357, "color": "#555"}, {"offset": 0.9357, "color": "#fff"},
    {"offset": 0.9789, "color": "#fff"}, {"offset": 0.9789, "color": "#555"}, {"offset": 0.9933, "color": "#555"}, {"offset": 0.9933, "color": "#fff"},
    {"offset": 1, "color": "#fff"}]}}, "encoding": {"y": {"datum": 300, "type": "quantitative", "title": "Arc-positive cells per mm²"}, "y2": {"datum": 0}}},
       {"transform": [{"filter": "datum.cond === 'G'"}], "mark": {"type": "bar", "fill": "#ffffff", "stroke": "#ffffff", "strokeWidth": 2}, "encoding": {"y2": {"datum": 300}}},
       {"mark": {"type": "bar", "strokeWidth": 2}, "encoding": {
         "fill": {"condition": {"test": "datum.cond === 'S'", "value": "#686868"}, "value": "transparent"},
         "stroke": {"field": "cond", "type": "nominal", "scale": {"domain": ["S", "G"], "range": ["#8a8a8a", "#8a8a8a"]}, "legend": {"title": null, "encode": {"symbols": {"strokeWidth": {"value": 1.5}, "fill": {"condition": [{"test": "datum.value === 'G'", "value": {"gradient": "linear", "x1": 0, "y1": 0, "x2": 1.189, "y2": 0.66, "stops": [{"offset": 0, "color": "#555"}, {"offset": 0.09, "color": "#555"}, {"offset": 0.09, "color": "#fff"}, {"offset": 0.357, "color": "#fff"}, {"offset": 0.357, "color": "#555"}, {"offset": 0.447, "color": "#555"}, {"offset": 0.447, "color": "#fff"}, {"offset": 0.714, "color": "#fff"}, {"offset": 0.714, "color": "#555"}, {"offset": 0.804, "color": "#555"}, {"offset": 0.804, "color": "#fff"}, {"offset": 1, "color": "#fff"}]}}, {"test": "datum.value === 'S'", "value": "#686868"}], "value": "#686868"}}}}}
       }},
       {"mark": {"type": "rule", "stroke": "#111111", "strokeWidth": 2}, "encoding": {"y2": {"field": "upper"}}},
       {"mark": {"type": "tick", "color": "#111111", "thickness": 2, "size": 20}, "encoding": {"y": {"field": "upper", "type": "quantitative", "title": "Arc-positive cells per mm²"}}},
       {"data": {"name": "pts"}, "transform": [{"filter": "datum.panel === 'd'"}], "mark": {"type": "point", "shape": "square", "filled": true, "opacity": 1, "strokeWidth": 1}, "encoding": {"y": {"field": "value", "type": "quantitative", "title": "Arc-positive cells per mm²"}, "fill": {"condition": {"test": "datum.cond === 'S'", "value": "#ffffff"}, "value": "#262626"}, "stroke": {"condition": {"test": "datum.cond === 'S'", "value": "#333333"}, "value": "#262626"}, "size": {"value": 28}}}
      ]
     }]
    },
    {
     "title": {"text": "f.", "anchor": "start", "frame": "bounds", "font": "'DejaVu Sans Condensed', 'Liberation Sans', sans-serif", "fontSize": 28, "fontWeight": "bold", "offset": -20, "dx": -35},
     "resolve": {"scale": {"stroke": "independent"}, "legend": {"stroke": "independent"}},
     "vconcat": [{
      "width": 225, "height": 222,
      "title": {"text": "AI", "anchor": "middle", "frame": "group", "fontSize": 19, "fontWeight": "bold", "offset": 4},
      "data": {"name": "bars"},
      "transform": [{"filter": "datum.panel === 'f'"}],
      "encoding": {
       "x": {"field": "group", "type": "nominal", "title": "conditioning group", "scale": {"domain": ["control", "nicotine"], "paddingInner": 0.316, "paddingOuter": 0.158}, "axis": {"bandPosition": 0.5}},
       "xOffset": {"field": "cond", "type": "nominal", "scale": {"domain": ["S", "G"], "paddingInner": 0, "paddingOuter": 0}},
       "y": {"field": "mean", "type": "quantitative", "stack": null, "title": "Arc-positive cells per mm²", "scale": {"domain": [0, 100], "nice": false}, "axis": {"values": [0, 20, 40, 60, 80, 100]}}
      },
      "layer": [
       {"transform": [{"filter": "datum.cond === 'G'"}], "mark": {"type": "bar", "stroke": null, "fill": {"gradient": "linear", "x1": 0, "y1": 0, "x2": 0.1976, "y2": 1.139, "stops": [
    {"offset": 0, "color": "#555"}, {"offset": 0.0144, "color": "#555"}, {"offset": 0.0144, "color": "#fff"},
    {"offset": 0.0576, "color": "#fff"}, {"offset": 0.0576, "color": "#555"}, {"offset": 0.072, "color": "#555"}, {"offset": 0.072, "color": "#fff"},
    {"offset": 0.1152, "color": "#fff"}, {"offset": 0.1152, "color": "#555"}, {"offset": 0.1296, "color": "#555"}, {"offset": 0.1296, "color": "#fff"},
    {"offset": 0.1727, "color": "#fff"}, {"offset": 0.1727, "color": "#555"}, {"offset": 0.1871, "color": "#555"}, {"offset": 0.1871, "color": "#fff"},
    {"offset": 0.2303, "color": "#fff"}, {"offset": 0.2303, "color": "#555"}, {"offset": 0.2447, "color": "#555"}, {"offset": 0.2447, "color": "#fff"},
    {"offset": 0.2879, "color": "#fff"}, {"offset": 0.2879, "color": "#555"}, {"offset": 0.3023, "color": "#555"}, {"offset": 0.3023, "color": "#fff"},
    {"offset": 0.3455, "color": "#fff"}, {"offset": 0.3455, "color": "#555"}, {"offset": 0.3599, "color": "#555"}, {"offset": 0.3599, "color": "#fff"},
    {"offset": 0.4031, "color": "#fff"}, {"offset": 0.4031, "color": "#555"}, {"offset": 0.4175, "color": "#555"}, {"offset": 0.4175, "color": "#fff"},
    {"offset": 0.4607, "color": "#fff"}, {"offset": 0.4607, "color": "#555"}, {"offset": 0.4751, "color": "#555"}, {"offset": 0.4751, "color": "#fff"},
    {"offset": 0.5182, "color": "#fff"}, {"offset": 0.5182, "color": "#555"}, {"offset": 0.5326, "color": "#555"}, {"offset": 0.5326, "color": "#fff"},
    {"offset": 0.5758, "color": "#fff"}, {"offset": 0.5758, "color": "#555"}, {"offset": 0.5902, "color": "#555"}, {"offset": 0.5902, "color": "#fff"},
    {"offset": 0.6334, "color": "#fff"}, {"offset": 0.6334, "color": "#555"}, {"offset": 0.6478, "color": "#555"}, {"offset": 0.6478, "color": "#fff"},
    {"offset": 0.691, "color": "#fff"}, {"offset": 0.691, "color": "#555"}, {"offset": 0.7054, "color": "#555"}, {"offset": 0.7054, "color": "#fff"},
    {"offset": 0.7486, "color": "#fff"}, {"offset": 0.7486, "color": "#555"}, {"offset": 0.763, "color": "#555"}, {"offset": 0.763, "color": "#fff"},
    {"offset": 0.8061, "color": "#fff"}, {"offset": 0.8061, "color": "#555"}, {"offset": 0.8205, "color": "#555"}, {"offset": 0.8205, "color": "#fff"},
    {"offset": 0.8637, "color": "#fff"}, {"offset": 0.8637, "color": "#555"}, {"offset": 0.8781, "color": "#555"}, {"offset": 0.8781, "color": "#fff"},
    {"offset": 0.9213, "color": "#fff"}, {"offset": 0.9213, "color": "#555"}, {"offset": 0.9357, "color": "#555"}, {"offset": 0.9357, "color": "#fff"},
    {"offset": 0.9789, "color": "#fff"}, {"offset": 0.9789, "color": "#555"}, {"offset": 0.9933, "color": "#555"}, {"offset": 0.9933, "color": "#fff"},
    {"offset": 1, "color": "#fff"}]}}, "encoding": {"y": {"datum": 100, "type": "quantitative", "title": "Arc-positive cells per mm²"}, "y2": {"datum": 0}}},
       {"transform": [{"filter": "datum.cond === 'G'"}], "mark": {"type": "bar", "fill": "#ffffff", "stroke": "#ffffff", "strokeWidth": 2}, "encoding": {"y2": {"datum": 100}}},
       {"mark": {"type": "bar", "strokeWidth": 2}, "encoding": {
         "fill": {"condition": {"test": "datum.cond === 'S'", "value": "#686868"}, "value": "transparent"},
         "stroke": {"field": "cond", "type": "nominal", "scale": {"domain": ["S", "G"], "range": ["#8a8a8a", "#8a8a8a"]}, "legend": {"title": null, "encode": {"symbols": {"strokeWidth": {"value": 1.5}, "fill": {"condition": [{"test": "datum.value === 'G'", "value": {"gradient": "linear", "x1": 0, "y1": 0, "x2": 1.189, "y2": 0.66, "stops": [{"offset": 0, "color": "#555"}, {"offset": 0.09, "color": "#555"}, {"offset": 0.09, "color": "#fff"}, {"offset": 0.357, "color": "#fff"}, {"offset": 0.357, "color": "#555"}, {"offset": 0.447, "color": "#555"}, {"offset": 0.447, "color": "#fff"}, {"offset": 0.714, "color": "#fff"}, {"offset": 0.714, "color": "#555"}, {"offset": 0.804, "color": "#555"}, {"offset": 0.804, "color": "#fff"}, {"offset": 1, "color": "#fff"}]}}, {"test": "datum.value === 'S'", "value": "#686868"}], "value": "#686868"}}}}}
       }},
       {"mark": {"type": "rule", "stroke": "#111111", "strokeWidth": 2}, "encoding": {"y2": {"field": "upper"}}},
       {"mark": {"type": "tick", "color": "#111111", "thickness": 2, "size": 20}, "encoding": {"y": {"field": "upper", "type": "quantitative", "title": "Arc-positive cells per mm²"}}},
       {"data": {"name": "pts"}, "transform": [{"filter": "datum.panel === 'f'"}], "mark": {"type": "point", "shape": "square", "filled": true, "opacity": 1, "strokeWidth": 1}, "encoding": {"y": {"field": "value", "type": "quantitative", "title": "Arc-positive cells per mm²"}, "fill": {"condition": {"test": "datum.cond === 'S'", "value": "#ffffff"}, "value": "#262626"}, "stroke": {"condition": {"test": "datum.cond === 'S'", "value": "#333333"}, "value": "#262626"}, "size": {"value": 28}}}
      ]
     }]
    }
   ]
  }
 ],
 "config": {
  "view": {"stroke": null},
  "font": "Liberation Sans",
  "title": {"font": "Liberation Sans", "color": "#000000"},
  "axisX": {"domainColor": "#000000", "domainWidth": 2.5, "tickColor": "#000000", "tickWidth": 2.5, "tickSize": 5, "labelAngle": 0, "labelFont": "Liberation Sans", "labelFontSize": 16, "labelFontWeight": "bold", "labelColor": "#000000", "labelPadding": 4, "titleFont": "Liberation Sans", "titleFontSize": 18, "titleFontWeight": "bold", "titleColor": "#000000", "titlePadding": 15, "grid": false},
  "axisY": {"domainColor": "#000000", "domainWidth": 2.5, "tickColor": "#000000", "tickWidth": 2.5, "tickSize": 5, "labelFont": "Liberation Sans", "labelFontSize": 16, "labelFontWeight": "bold", "labelColor": "#000000", "labelPadding": 1, "titleFont": "Liberation Sans", "titleFontSize": 18, "titleFontWeight": "bold", "titleColor": "#000000", "titlePadding": 8, "grid": false},
  "legend": {"orient": "right", "offset": -2, "padding": 4, "labelFont": "Liberation Sans", "labelFontSize": 18, "labelColor": "#000000", "labelOffset": 9, "symbolType": "M-1.8,-1H1.8V1H-1.8Z", "symbolSize": 225, "symbolStrokeWidth": 1.5, "rowPadding": 4, "titleFont": "DejaVu Sans", "titleFontSize": 28, "titleFontWeight": "normal", "titleColor": "#000000", "titlePadding": 8}
 }
}
